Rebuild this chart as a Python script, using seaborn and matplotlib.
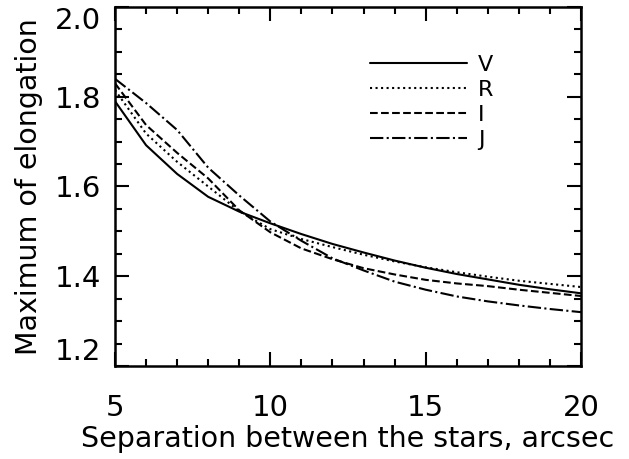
import matplotlib
matplotlib.use("Agg")
import matplotlib.pyplot as plt
import seaborn as sns
import pandas as pd
from matplotlib.ticker import MultipleLocator

separation = [5, 6, 7, 8, 9, 10, 11, 12, 13, 14, 15, 16, 17, 18, 19, 20]
elong_V = [1.790, 1.692, 1.628, 1.577, 1.544, 1.518, 1.494, 1.472, 1.453, 1.435, 1.419, 1.405, 1.393, 1.381, 1.371, 1.362]
elong_R = [1.815, 1.718, 1.655, 1.600, 1.545, 1.505, 1.483, 1.465, 1.448, 1.433, 1.420, 1.409, 1.399, 1.390, 1.383, 1.376]
elong_I = [1.830, 1.737, 1.675, 1.618, 1.547, 1.498, 1.462, 1.438, 1.418, 1.404, 1.392, 1.384, 1.378, 1.370, 1.363, 1.356]
elong_J = [1.840, 1.786, 1.726, 1.642, 1.580, 1.522, 1.479, 1.440, 1.413, 1.388, 1.370, 1.355, 1.344, 1.335, 1.327, 1.320]
bands = ["V", "R", "I", "J"]

sns.set_style("ticks")
plt.rcParams['font.family'] = ['DejaVu Sans']
plt.rcParams.update({"text.color": "black", "axes.labelcolor": "black",
                     "xtick.color": "black", "ytick.color": "black",
                     "axes.edgecolor": "black"})

fig = plt.figure(figsize=(6.29, 4.59), dpi=100)
ax = fig.add_axes([115/629, 1 - 366/459, (581 - 115)/629, (366 - 7)/459])

styles = {"V": "-", "R": ":", "I": "--", "J": "-."}
series = {"V": elong_V, "R": elong_R, "I": elong_I, "J": elong_J}
for b in bands:
    df = pd.DataFrame({"x": separation, "y": series[b]})
    sns.lineplot(data=df, x="x", y="y", ax=ax, color="black", linewidth=1.5,
                 linestyle=styles[b], label=b)

ax.set_xlim(5, 20)
ax.set_ylim(1.2, 2.0)
ax.xaxis.set_major_locator(MultipleLocator(5))
ax.xaxis.set_minor_locator(MultipleLocator(1))
ax.yaxis.set_major_locator(MultipleLocator(0.2))
ax.yaxis.set_minor_locator(MultipleLocator(0.05))
ax.yaxis.set_major_formatter(matplotlib.ticker.FormatStrFormatter('%.1f'))
ax.tick_params(which="both", direction="in", top=True, right=True, width=1.5, color="black")
ax.tick_params(which="major", length=10)
ax.tick_params(which="minor", length=5)
ax.tick_params(axis="x", which="major", pad=20, labelsize=21, labelcolor="black")
ax.tick_params(axis="y", which="major", pad=10, labelsize=21, labelcolor="black")
for s in ax.spines.values():
    s.set_linewidth(1.8)
    s.set_color("black")

fig.canvas.draw()
for t in ax.get_yticklabels():
    txt = t.get_text()
    if txt == "2.0":
        t.set_va("top")
    elif txt == "1.2":
        t.set_va("bottom")

ax.set_xlabel("Separation between the stars, arcsec", fontsize=20.5, labelpad=2, color="black")
ax.set_ylabel("Maximum of elongation", fontsize=20.5, labelpad=8, color="black")

leg = ax.legend(loc="upper left", bbox_to_anchor=((370 - 115)/466, 1 - (55 - 7)/359),
                frameon=False, fontsize=16, handlelength=4.35, handletextpad=0.5,
                labelspacing=0.22, borderaxespad=0, borderpad=0)
for t in leg.get_texts():
    t.set_color("black")

fig.savefig("out.png", dpi=100)
